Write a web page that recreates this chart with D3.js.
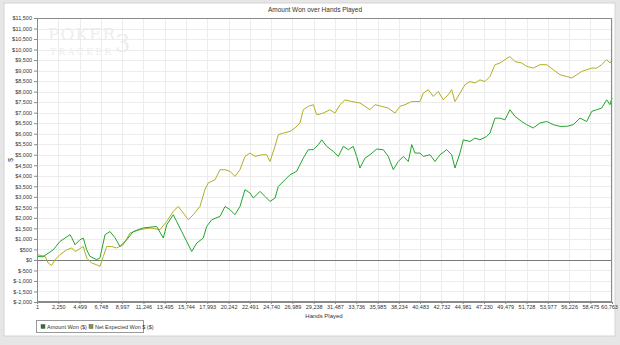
<!DOCTYPE html>
<html>
<head>
<meta charset="utf-8">
<script src="https://cdn.jsdelivr.net/npm/d3@7"></script>
<style>
  html, body { margin: 0; padding: 0; background: #e6e6e6; }
  svg { display: block; font-family: "Liberation Sans", Arial, sans-serif; }
</style>
</head>
<body>
<svg id="chart" width="620" height="345"></svg>
<script>
// hands (x) and dollars (y)
const wonHands = [1, 630, 1720, 2430, 3490, 3670, 4020, 4540, 4890, 5250, 5600, 6310, 6660, 6840, 7190, 7710, 8240, 8770, 9480, 10180, 11230, 12650, 13350, 13710, 14400, 14760, 15290, 15820, 16350, 16880, 17570, 17930, 18460, 19340, 19870, 20400, 20920, 21450, 21980, 22510, 22860, 23560, 24090, 24620, 25150, 25500, 26210, 26740, 27440, 28140, 28670, 29200, 29730, 30090, 30610, 31310, 31840, 32370, 32900, 33420, 33780, 34130, 34660, 35190, 35900, 36590, 37120, 37650, 38180, 38710, 39240, 39600, 39940, 40470, 40820, 41530, 42060, 42590, 43290, 43820, 44170, 44700, 45050, 45760, 46280, 46810, 47520, 47870, 48400, 48930, 49450, 49980, 50510, 51220, 51750, 52440, 53150, 53860, 54560, 55270, 55970, 56670, 57380, 58090, 58620, 59140, 59670, 60200, 60550, 60763];
const amountWon = [170, 150, 480, 880, 1200, 1060, 720, 960, 1040, 480, 170, 10, 100, 480, 1200, 1350, 1060, 640, 960, 1350, 1520, 1590, 1040, 1670, 2150, 1830, 1350, 880, 400, 800, 1040, 1590, 1910, 2070, 2540, 2390, 2150, 2540, 3340, 3180, 2940, 3260, 3020, 2780, 2940, 3490, 3810, 4050, 4210, 4840, 5240, 5240, 5480, 5710, 5400, 5160, 4920, 5400, 5240, 5400, 4920, 4370, 4840, 5000, 5270, 5240, 4920, 4290, 4680, 4920, 4680, 5480, 5080, 5080, 4920, 5000, 4680, 5000, 5240, 5000, 4370, 5080, 5710, 5630, 5790, 5710, 5870, 6030, 6740, 6740, 6660, 7140, 6820, 6580, 6430, 6270, 6510, 6580, 6430, 6350, 6350, 6430, 6740, 6580, 7060, 7140, 7220, 7610, 7380, 7700];

const ewHands = [1, 850, 1190, 1550, 1900, 2430, 3140, 3670, 4020, 4360, 4890, 5250, 5780, 6310, 6660, 7010, 7370, 7890, 8420, 9120, 9830, 10890, 11940, 13000, 13710, 14400, 14930, 15460, 15990, 16520, 17220, 17750, 18100, 18810, 19340, 19870, 20400, 20920, 21450, 21980, 22510, 23040, 23740, 24270, 24620, 25150, 25500, 26030, 26740, 27260, 27790, 28140, 28670, 29200, 29560, 30250, 30960, 31490, 32020, 32550, 33260, 34130, 34660, 35190, 35720, 36430, 37120, 37830, 38360, 38890, 39600, 40470, 40820, 41350, 41880, 42400, 42930, 43460, 43820, 44170, 44700, 45230, 45760, 46280, 46810, 47340, 47870, 48400, 48930, 49450, 49980, 50510, 51220, 51750, 52440, 53150, 53860, 54560, 55270, 55970, 56500, 57030, 57560, 58090, 58620, 59140, 59670, 60200, 60550, 60763];
const expectedWon = [250, 170, -150, -260, 10, 250, 480, 570, 400, 480, 640, 90, -150, -230, -310, 170, 640, 640, 570, 720, 1280, 1440, 1520, 1440, 1830, 2310, 2540, 2230, 1910, 2150, 2540, 3340, 3660, 3810, 4290, 4290, 4210, 3970, 4290, 4920, 5080, 4920, 5000, 5000, 4680, 5400, 5950, 6030, 6110, 6270, 6510, 7140, 7300, 7380, 6900, 6980, 7140, 6980, 7380, 7610, 7530, 7460, 7300, 7140, 7380, 7300, 7220, 6980, 7300, 7380, 7530, 7530, 7930, 8090, 7770, 8010, 7610, 7850, 8090, 7530, 7930, 8330, 8480, 8410, 8560, 8480, 8720, 9280, 9360, 9520, 9670, 9430, 9360, 9200, 9120, 9280, 9280, 9040, 8800, 8720, 8650, 8800, 8960, 9040, 9120, 9120, 9280, 9520, 9360, 9520];

const xTicks = [1, 2250, 4499, 6748, 8997, 11246, 13495, 15744, 17993, 20242, 22491, 24740, 26989, 29238, 31487, 33736, 35985, 38234, 40483, 42732, 44981, 47230, 49479, 51728, 53977, 56226, 58475, 60763];
const yTicks = d3.range(-2000, 11501, 500);

const seriesNames = ["Amount Won ($)", "Net Expected Won $ ($)"];
const seriesColors = ["#22a52a", "#b3ae22"];
const legendColors = ["#1e7d2a", "#8f9a2a"];

const width = 620, height = 345;
const margin = { left: 37, right: 8, top: 18, bottom: 43 };
const plotW = width - margin.left - margin.right;
const plotH = height - margin.top - margin.bottom;

const $svg = d3.select("#chart");

// window panel
$svg.append("rect")
  .attr("x", 4).attr("y", 3).attr("width", 611).attr("height", 333)
  .attr("fill", "#fff").attr("stroke", "#d4d4d4");

const x = d3.scaleLinear().domain([1, 60763]).range([margin.left, margin.left + plotW]);
const y = d3.scaleLinear().domain([-2000, 11500]).range([margin.top + plotH, margin.top]);

const fmtMoney = (v) => "$" + (v < 0 ? "-" : "") + d3.format(",")(Math.abs(v));

// watermark
const $wm = $svg.append("g").attr("fill", "#f0ecec").style("font-family", "'DejaVu Serif', serif");
$wm.append("text").attr("x", 48).attr("y", 40).style("font-size", "17px").style("letter-spacing", "1px").text("POKER");
$wm.append("text").attr("x", 50).attr("y", 55).style("font-size", "9px").style("letter-spacing", "2.5px").text("TRACKER");
$wm.append("text").attr("x", 115).attr("y", 52).style("font-size", "24px").text("3");

// grid
const $grid = $svg.append("g").attr("stroke", "#ececec").attr("stroke-width", 1);
$grid.selectAll("line.v").data(xTicks).enter().append("line")
  .attr("x1", (d) => Math.round(x(d)) + 0.5).attr("x2", (d) => Math.round(x(d)) + 0.5)
  .attr("y1", margin.top).attr("y2", margin.top + plotH);
$grid.selectAll("line.h").data(yTicks).enter().append("line")
  .attr("y1", (d) => Math.round(y(d)) + 0.5).attr("y2", (d) => Math.round(y(d)) + 0.5)
  .attr("x1", margin.left).attr("x2", margin.left + plotW);

// zero line
$svg.append("line")
  .attr("x1", margin.left).attr("x2", margin.left + plotW)
  .attr("y1", Math.round(y(0)) + 0.5).attr("y2", Math.round(y(0)) + 0.5)
  .attr("stroke", "#7a7a7a").attr("stroke-width", 1);

// lines
const line = d3.line().x((d) => x(d[0])).y((d) => y(d[1]));
const series = [
  d3.zip(ewHands, expectedWon),
  d3.zip(wonHands, amountWon),
];
const order = [1, 0];
series.forEach((pts, i) => {
  $svg.append("path")
    .datum(pts)
    .attr("fill", "none")
    .attr("stroke", seriesColors[order[i]])
    .attr("stroke-width", 1)
    .attr("stroke-linejoin", "round")
    .attr("d", line);
});

// plot border
$svg.append("rect")
  .attr("x", margin.left + 0.5).attr("y", margin.top + 0.5)
  .attr("width", plotW - 1).attr("height", plotH - 1)
  .attr("fill", "none").attr("stroke", "#8a8a8a");

// axes
const $yAxis = $svg.append("g")
  .attr("transform", `translate(${margin.left},0)`)
  .call(d3.axisLeft(y).tickValues(yTicks).tickFormat(fmtMoney).tickSize(3).tickPadding(2));
const $xAxis = $svg.append("g")
  .attr("transform", `translate(0,${margin.top + plotH})`)
  .call(d3.axisBottom(x).tickValues(xTicks).tickFormat(d3.format(",")).tickSize(2).tickPadding(1));
[$yAxis, $xAxis].forEach(($a) => {
  $a.select(".domain").attr("stroke", "#8a8a8a");
  $a.selectAll(".tick line").attr("stroke", "#8a8a8a");
  $a.selectAll(".tick text").attr("fill", "#333").style("font-size", "5.5px").style("font-family", "'Liberation Sans', Arial, sans-serif");
});
// keep the last hand label inside the window
$xAxis.selectAll(".tick text").filter((d) => d === xTicks[xTicks.length - 1]).attr("dx", "-3");

// title and axis labels
$svg.append("text").attr("x", 315).attr("y", 12).attr("text-anchor", "middle")
  .attr("fill", "#333").style("font-size", "6.5px").text("Amount Won over Hands Played");
$svg.append("text").attr("x", 324).attr("y", 317.5).attr("text-anchor", "middle")
  .attr("fill", "#333").style("font-size", "6px").text("Hands Played");
$svg.append("text").attr("transform", "translate(13,160) rotate(-90)").attr("text-anchor", "middle")
  .attr("fill", "#333").style("font-size", "6.5px").text("$");

// legend
const $legend = $svg.append("g");
$legend.append("rect").attr("x", 36.5).attr("y", 320.5).attr("width", 107).attr("height", 12)
  .attr("fill", "#fff").attr("stroke", "#999");
const legendX = [41, 89];
seriesNames.forEach((name, i) => {
  $legend.append("rect").attr("x", legendX[i]).attr("y", 324.5).attr("width", 4).attr("height", 4)
    .attr("fill", legendColors[i]).attr("stroke", "#444").attr("stroke-width", 0.4);
  $legend.append("text").attr("x", legendX[i] + 6).attr("y", 328.8)
    .attr("fill", "#333").style("font-size", "5.5px").text(name);
});
</script>
</body>
</html>
